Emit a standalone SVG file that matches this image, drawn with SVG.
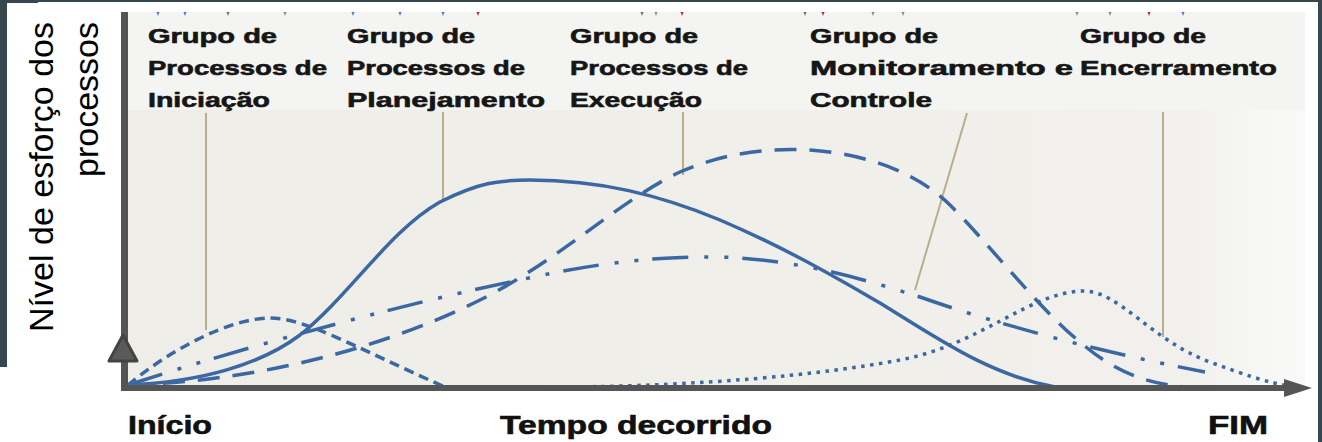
<svg xmlns="http://www.w3.org/2000/svg" width="1322" height="442" viewBox="0 0 1322 442">
<style>
.frame{fill:#37474f}
.hdr{font-family:"Liberation Sans",Arial,sans-serif;font-weight:bold;font-size:20.5px;fill:#161616;stroke:#161616;stroke-width:0.6}
.axlbl{font-family:"Liberation Sans",Arial,sans-serif;font-weight:bold;font-size:25px;fill:#111;stroke:#111;stroke-width:0.6}
.ytitle{font-family:"Liberation Sans",Arial,sans-serif;font-size:34px;fill:#000}
.lead{stroke:#b7af8c;stroke-width:2;fill:none}
.curve{fill:none;stroke:#3b68a3;stroke-width:3.5}
.tk{stroke:none}
</style>
<defs>
<linearGradient id="bodyg" x1="0" y1="0" x2="1" y2="0">
<stop offset="0" stop-color="#eeede7"/>
<stop offset="0.9" stop-color="#f1f0ec"/>
<stop offset="0.96" stop-color="#f7f7f5"/>
<stop offset="1" stop-color="#f9f9f8"/>
</linearGradient>
</defs>
<rect x="0" y="0" width="1322" height="442" fill="#ffffff"/>
<g id="frame">
<rect class="frame" x="0" y="0" width="1322" height="2"/>
<rect class="frame" x="0" y="0" width="38" height="3"/>
<rect class="frame" x="0" y="0" width="7" height="367"/>
<rect class="frame" x="1318" y="0" width="4" height="442"/>
</g>
<g id="plot-bg">
<rect x="128" y="12" width="1177" height="98" fill="#f4f4f2"/>
<rect x="128" y="110" width="1177" height="276" fill="url(#bodyg)"/>
</g>
<g id="ticks" class="tk">
<polygon points="156.5,12 159.5,12 158,16" fill="#4a7cc0"/>
<polygon points="183.5,12 186.5,12 185,16" fill="#4a7cc0"/>
<polygon points="226.5,12 229.5,12 228,16" fill="#707070"/>
<polygon points="283.5,12 286.5,12 285,16" fill="#6a9a80"/>
<polygon points="351.5,12 354.5,12 353,16" fill="#4a7cc0"/>
<polygon points="398.5,12 401.5,12 400,16" fill="#4a7cc0"/>
<polygon points="441.5,12 444.5,12 443,16" fill="#4a7cc0"/>
<polygon points="476.5,12 479.5,12 478,16" fill="#d02030"/>
<polygon points="640.5,12 643.5,12 642,16" fill="#707070"/>
<polygon points="654.5,12 657.5,12 656,16" fill="#6a9a80"/>
<polygon points="680.5,12 683.5,12 682,16" fill="#d02030"/>
<polygon points="803.5,12 806.5,12 805,16" fill="#707070"/>
<polygon points="821.5,12 824.5,12 823,16" fill="#d02030"/>
<polygon points="871.5,12 874.5,12 873,16" fill="#6a9a80"/>
<polygon points="901.5,12 904.5,12 903,16" fill="#6a9a80"/>
<polygon points="1075.5,12 1078.5,12 1077,16" fill="#6a9a80"/>
<polygon points="1108.5,12 1111.5,12 1110,16" fill="#6a9a80"/>
<polygon points="1147.5,12 1150.5,12 1149,16" fill="#d02030"/>
<polygon points="1181.5,12 1184.5,12 1183,16" fill="#4a7cc0"/>
</g>
<g id="connectors">
<line class="lead" x1="206" y1="113" x2="206" y2="330"/>
<line class="lead" x1="443" y1="112" x2="443" y2="200"/>
<line class="lead" x1="683" y1="112" x2="683" y2="175"/>
<line class="lead" x1="967" y1="113" x2="915" y2="290"/>
<line class="lead" x1="1163" y1="112" x2="1163" y2="337"/>
</g>
<g id="curves">
<path id="curve-planejamento" class="curve" d="M128,385 C200,382 260,365 300,335 C350,295 390,230 440,202 C480,182 500,180 530,180 C600,180 660,195 720,220 C790,250 840,280 880,303 C940,340 990,375 1055,387"/>
<path id="curve-iniciacao" class="curve" stroke-dasharray="10 6" d="M128,385 C170,350 230,318 270,318 C305,318 350,345 445,387"/>
<path id="curve-execucao" class="curve" stroke-dasharray="22 13" d="M128,385 C250,382 380,350 480,300 C560,260 620,200 680,172 C730,150 780,148 810,150 C870,154 920,175 950,205 C990,245 1040,310 1080,342 C1110,368 1140,383 1185,387"/>
<path id="curve-monitoramento" class="curve" stroke-dasharray="36 16 4 16 4 14" d="M128,385 C250,345 420,300 520,280 C600,262 660,256 720,257 C800,260 860,278 920,297 C1000,325 1100,352 1205,372"/>
<path id="curve-encerramento" class="curve" stroke-dasharray="3.5 5.5" d="M565,387 C700,386 820,375 900,360 C980,345 1030,292 1083,291 C1120,291 1150,340 1210,362 C1240,373 1270,384 1292,386"/>
</g>
<g id="axes">
<rect x="121" y="12" width="7" height="379" fill="#555555"/>
<rect x="121" y="385" width="1166" height="6" fill="#555555"/>
<polygon points="1284,379 1312,388 1284,397" fill="#555555"/>
<polygon points="123,335 137,361 109,361" fill="#5a5a5a" stroke="#444444" stroke-width="3" stroke-linejoin="round"/>
</g>
<g id="label-iniciacao">
<text class="hdr" x="148" y="43" textLength="129" lengthAdjust="spacingAndGlyphs">Grupo de</text>
<text class="hdr" x="148" y="75" textLength="179" lengthAdjust="spacingAndGlyphs">Processos de</text>
<text class="hdr" x="148" y="107" textLength="122" lengthAdjust="spacingAndGlyphs">Iniciação</text>
</g>
<g id="label-planejamento">
<text class="hdr" x="347" y="43" textLength="128" lengthAdjust="spacingAndGlyphs">Grupo de</text>
<text class="hdr" x="347" y="75" textLength="178" lengthAdjust="spacingAndGlyphs">Processos de</text>
<text class="hdr" x="347" y="107" textLength="198" lengthAdjust="spacingAndGlyphs">Planejamento</text>
</g>
<g id="label-execucao">
<text class="hdr" x="570" y="43" textLength="128" lengthAdjust="spacingAndGlyphs">Grupo de</text>
<text class="hdr" x="570" y="75" textLength="178" lengthAdjust="spacingAndGlyphs">Processos de</text>
<text class="hdr" x="570" y="107" textLength="132" lengthAdjust="spacingAndGlyphs">Execução</text>
</g>
<g id="label-monitoramento">
<text class="hdr" x="810" y="43" textLength="128" lengthAdjust="spacingAndGlyphs">Grupo de</text>
<text class="hdr" x="810" y="75" textLength="263" lengthAdjust="spacingAndGlyphs">Monitoramento e</text>
<text class="hdr" x="810" y="107" textLength="122" lengthAdjust="spacingAndGlyphs">Controle</text>
</g>
<g id="label-encerramento">
<text class="hdr" x="1080" y="43" textLength="126" lengthAdjust="spacingAndGlyphs">Grupo de</text>
<text class="hdr" x="1080" y="75" textLength="197" lengthAdjust="spacingAndGlyphs">Encerramento</text>
</g>
<g id="axis-labels">
<text class="axlbl" x="128" y="434" textLength="84" lengthAdjust="spacingAndGlyphs">Início</text>
<text class="axlbl" x="500" y="434" textLength="272" lengthAdjust="spacingAndGlyphs">Tempo decorrido</text>
<text class="axlbl" x="1208" y="434" textLength="60" lengthAdjust="spacingAndGlyphs">FIM</text>
</g>
<g id="y-title">
<text class="ytitle" transform="translate(53,22) rotate(-90)" text-anchor="end">Nível de esforço dos</text>
<text class="ytitle" transform="translate(98,22) rotate(-90)" text-anchor="end">processos</text>
</g>
</svg>
